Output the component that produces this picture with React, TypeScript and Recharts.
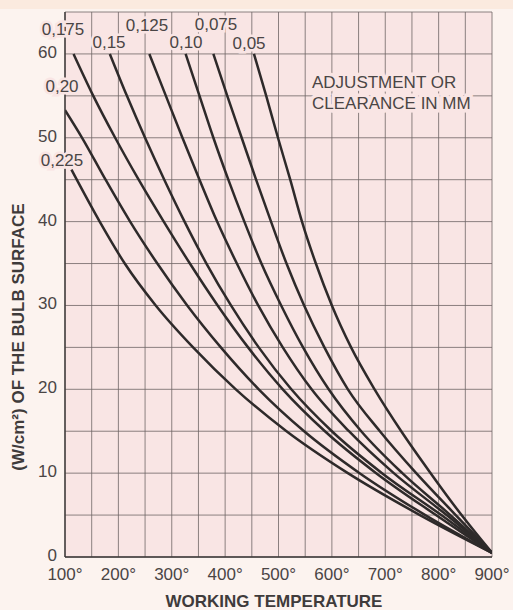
import { LineChart, Line, XAxis, YAxis, CartesianGrid } from 'recharts'

// axis ticks (grid every 50° and every 5 W/cm²)
const TEMP_TICKS = [100, 150, 200, 250, 300, 350, 400, 450, 500, 550, 600, 650, 700, 750, 800, 850, 900]
const LOAD_TICKS = [0, 5, 10, 15, 20, 25, 30, 35, 40, 45, 50, 55, 60, 65]

// one curve per clearance (mm): [working temperature °C, load W/cm²]
const GAP_0225 = [[112, 46.2], [165, 40], [212, 35], [270, 30], [340, 25], [420, 20], [515, 15], [630, 10], [765, 5], [900, 0.5]]
const GAP_020 = [[100, 53.3], [132, 50], [176, 45], [222, 40], [273, 35], [329, 30], [392, 25], [463, 20], [548, 15], [652, 10], [775, 5], [900, 0.5]]
const GAP_0175 = [[116, 60], [153, 55], [194, 50], [238, 45], [285, 40], [334, 35], [386, 30], [443, 25], [508, 20], [587, 15], [683, 10], [795, 5], [900, 0.5]]
const GAP_015 = [[184, 60], [216, 55], [250, 50], [286, 45], [324, 40], [365, 35], [411, 30], [463, 25], [524, 20], [600, 15], [694, 10], [805, 5], [900, 0.5]]
const GAP_0125 = [[258, 60], [289, 55], [320, 50], [352, 45], [385, 40], [422, 35], [462, 30], [508, 25], [562, 20], [632, 15], [716, 10], [815, 5], [900, 0.5]]
const GAP_010 = [[326, 60], [352, 55], [378, 50], [406, 45], [436, 40], [468, 35], [505, 30], [546, 25], [594, 20], [655, 15], [732, 10], [822, 5], [900, 0.5]]
const GAP_0075 = [[378, 60], [404, 55], [431, 50], [458, 45], [486, 40], [515, 35], [548, 30], [586, 25], [630, 20], [690, 15], [758, 10], [832, 5], [900, 0.5]]
const GAP_005 = [[454, 60], [477, 55], [499, 50], [522, 45], [544, 40], [570, 35], [600, 30], [636, 25], [680, 20], [730, 15], [785, 10], [843, 5], [900, 0.5]]

const CURVES = [
  { name: '0,225', pts: GAP_0225 },
  { name: '0,20', pts: GAP_020 },
  { name: '0,175', pts: GAP_0175 },
  { name: '0,15', pts: GAP_015 },
  { name: '0,125', pts: GAP_0125 },
  { name: '0,10', pts: GAP_010 },
  { name: '0,075', pts: GAP_0075 },
  { name: '0,05', pts: GAP_005 },
]

// where the curve names sit on the sheet (page px)
const TAGS = [
  { text: '0,175', x: 63, y: 29 },
  { text: '0,15', x: 109, y: 42 },
  { text: '0,125', x: 147, y: 25 },
  { text: '0,10', x: 186, y: 42 },
  { text: '0,075', x: 216, y: 24 },
  { text: '0,05', x: 249, y: 43 },
  { text: '0,20', x: 62, y: 86 },
  { text: '0,225', x: 62, y: 160 },
]

const PAPER = '#f9e5e4'
const INK = '#4a4545'
const FONT = '"Liberation Sans", Arial, sans-serif'

const toRows = (pts: number[][]) => pts.map(([t, v]) => ({ t, v }))

export default function App() {
  return (
    <div style={{ position: 'absolute', left: 0, top: 0, width: 513, height: 610, background: '#fcf3ef', fontFamily: FONT, overflow: 'hidden' }}>
      <div style={{ position: 'absolute', left: 0, top: 0, width: 513, height: 9, background: '#fbeadf' }} />
      <LineChart
        width={513}
        height={610}
        margin={{ top: 12, right: 21, bottom: 2, left: 5 }}
        style={{ position: 'absolute', left: 0, top: 0 }}
      >
        <CartesianGrid fill={PAPER} stroke="#6f6464" strokeWidth={0.8} />
        <XAxis
          type="number"
          dataKey="t"
          domain={[100, 900]}
          ticks={TEMP_TICKS}
          interval={0}
          allowDataOverflow
          tickFormatter={(v: number) => (v % 100 === 0 ? `${v}°` : '')}
          tickLine={false}
          tickSize={0}
          tickMargin={11}
          height={51}
          axisLine={{ stroke: '#3d3838', strokeWidth: 1.4 }}
          tick={{ fill: INK, fontSize: 17, fontFamily: FONT }}
        />
        <YAxis
          type="number"
          dataKey="v"
          domain={[0, 65]}
          ticks={LOAD_TICKS}
          interval={0}
          allowDataOverflow
          tickFormatter={(v: number) => (v % 10 === 0 && v <= 60 ? String(v) : '')}
          tickLine={false}
          tickSize={0}
          tickMargin={8}
          width={60}
          axisLine={{ stroke: '#3d3838', strokeWidth: 1.4 }}
          tick={{ fill: INK, fontSize: 17, fontFamily: FONT, dy: -2 }}
        />
        {CURVES.map(c => (
          <Line
            key={c.name}
            name={c.name}
            data={toRows(c.pts)}
            dataKey="v"
            type="monotone"
            stroke="#2e2a2a"
            strokeWidth={2.5}
            dot={false}
            activeDot={false}
            isAnimationActive={false}
          />
        ))}
      </LineChart>

      {/* curve names, note and axis titles */}
      <svg width={513} height={610} style={{ position: 'absolute', left: 0, top: 0, pointerEvents: 'none' }}>
        {TAGS.map(t => (
          <text
            key={t.text}
            x={t.x}
            y={t.y}
            textAnchor="middle"
            dominantBaseline="central"
            fontSize={17}
            fill={INK}
            stroke={PAPER}
            strokeWidth={5}
            style={{ paintOrder: 'stroke' }}
          >
            {t.text}
          </text>
        ))}
        <text x={312} y={82} dominantBaseline="central" fontSize={17} fill={INK} stroke={PAPER} strokeWidth={7} style={{ paintOrder: 'stroke' }}>
          ADJUSTMENT OR
        </text>
        <text x={312} y={103} dominantBaseline="central" fontSize={17} fill={INK} stroke={PAPER} strokeWidth={7} style={{ paintOrder: 'stroke' }}>
          CLEARANCE IN MM
        </text>
        <text x={274} y={601} textAnchor="middle" dominantBaseline="central" fontSize={17} fontWeight="bold" fill="#3f3b3b">
          WORKING TEMPERATURE
        </text>
        <text
          x={18}
          y={337}
          textAnchor="middle"
          dominantBaseline="central"
          fontSize={17}
          fontWeight="bold"
          fill="#3f3b3b"
          transform="rotate(-90 18 337)"
        >
          (W/cm²) OF THE BULB SURFACE
        </text>
      </svg>
    </div>
  )
}
